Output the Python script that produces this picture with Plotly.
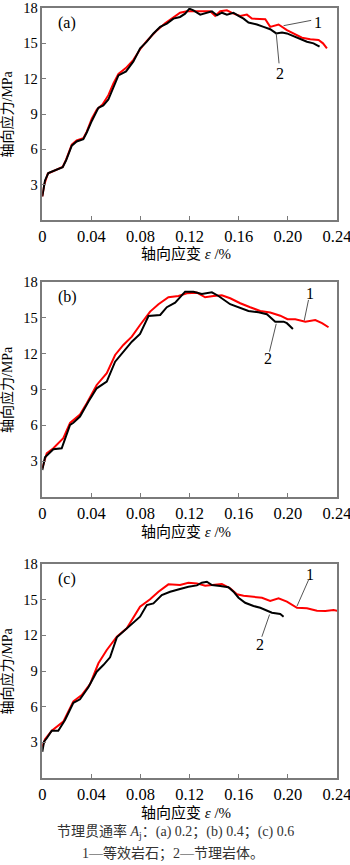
import plotly.graph_objects as go

# ---------------- data ----------------
x_ticks = [0, 0.04, 0.08, 0.12, 0.16, 0.20, 0.24]
x_tick_text = ["0", "0.04", "0.08", "0.12", "0.16", "0.20", "0.24"]
y_ticks = [3, 6, 9, 12, 15, 18]
y_tick_text = ["3", "6", "9", "12", "15", "18"]
panel_labels = ["(a)", "(b)", "(c)"]
series_labels = ["1", "2"]

# (a) curve 1 (等效岩石, red) / curve 2 (节理岩体, black)
a1_strain = [0, 0.0016, 0.0045, 0.010, 0.0166, 0.0193, 0.024, 0.028, 0.0334, 0.0362, 0.0403, 0.0445, 0.049,
             0.0538, 0.0579, 0.062, 0.068, 0.0742, 0.0797, 0.0851, 0.0933, 0.100, 0.1068, 0.1122, 0.1177,
             0.1258, 0.1313, 0.1367, 0.1408, 0.1449, 0.1503, 0.1557, 0.1612, 0.1666, 0.1707, 0.1761, 0.1816,
             0.1856, 0.1924, 0.1992, 0.2046, 0.2115, 0.2182, 0.225, 0.2286, 0.2318]
a1_stress = [2.0, 3.0, 3.95, 4.2, 4.5, 5.1, 6.4, 6.75, 6.95, 7.5, 8.6, 9.4, 9.8, 10.6, 11.6, 12.4, 12.9, 13.6,
             14.5, 15.2, 16.1, 16.7, 17.24, 17.6, 17.72, 17.72, 17.66, 17.72, 17.33, 17.72, 17.8, 17.52, 17.33,
             17.44, 17.1, 17.04, 17.04, 16.4, 16.6, 16.12, 15.84, 15.48, 15.34, 15.28, 15.0, 14.58]
a2_strain = [0, 0.0022, 0.0049, 0.0104, 0.0166, 0.0193, 0.024, 0.028, 0.0334, 0.0362, 0.0403, 0.0457, 0.0497,
             0.0538, 0.0579, 0.062, 0.0682, 0.0742, 0.0797, 0.0851, 0.0905, 0.096, 0.1014, 0.1068, 0.1122,
             0.1163, 0.1198, 0.1231, 0.1286, 0.134, 0.1381, 0.1422, 0.1463, 0.1503, 0.1557, 0.1598, 0.1639,
             0.1679, 0.1748, 0.1802, 0.1856, 0.1905, 0.1952, 0.1992, 0.2046, 0.2101, 0.2155, 0.2209, 0.2258]
a2_stress = [2.0, 3.36, 3.98, 4.2, 4.48, 5.05, 6.31, 6.67, 6.87, 7.43, 8.41, 9.53, 9.73, 10.23, 11.21, 12.28,
             12.62, 13.46, 14.58, 15.14, 15.84, 16.4, 16.68, 17.1, 17.24, 17.52, 17.94, 17.8, 17.44, 17.6, 17.72,
             17.38, 17.6, 17.44, 17.6, 17.33, 17.1, 16.76, 16.6, 16.4, 16.2, 15.84, 15.92, 15.84, 15.62, 15.37,
             15.14, 15.0, 14.72]

# (b)
b1_strain = [0, 0.0036, 0.009, 0.0171, 0.0226, 0.0307, 0.0362, 0.0443, 0.0525, 0.0593, 0.066, 0.0729, 0.0796,
             0.0878, 0.0946, 0.1027, 0.1109, 0.1177, 0.1259, 0.1326, 0.1394, 0.1462, 0.153, 0.1612, 0.1693,
             0.1775, 0.1856, 0.1938, 0.1997, 0.206, 0.2142, 0.2223, 0.2278, 0.2331]
b1_stress = [2.4, 3.66, 4.08, 4.92, 6.2, 6.9, 7.85, 9.38, 10.36, 11.89, 12.73, 13.43, 14.4, 15.52, 16.14, 16.72,
             16.83, 17.06, 17.11, 16.72, 16.83, 16.89, 16.64, 16.22, 15.89, 15.58, 15.44, 15.18, 14.88, 14.88,
             14.68, 14.82, 14.55, 14.21]
b2_strain = [0, 0.0022, 0.009, 0.0158, 0.0226, 0.0253, 0.0307, 0.0375, 0.0443, 0.0525, 0.0593, 0.066, 0.0729,
             0.0796, 0.0865, 0.096, 0.1014, 0.1082, 0.1163, 0.1231, 0.1299, 0.1381, 0.1435, 0.153, 0.1598,
             0.1679, 0.1761, 0.1829, 0.1897, 0.1965, 0.1992, 0.2041]
b2_stress = [2.26, 3.32, 4.0, 4.08, 6.03, 6.22, 6.73, 7.98, 9.1, 9.66, 11.33, 12.17, 13.0, 13.65, 15.15, 15.24,
             15.89, 16.27, 17.19, 17.19, 17.0, 17.14, 16.83, 16.14, 15.89, 15.58, 15.47, 15.3, 14.68, 14.68,
             14.55, 14.07]

# (c)
c1_strain = [0, 0.0022, 0.0077, 0.0171, 0.0253, 0.0321, 0.0389, 0.0457, 0.0525, 0.0607, 0.0688, 0.077, 0.0796,
             0.0878, 0.0946, 0.1027, 0.1122, 0.119, 0.1259, 0.1326, 0.1394, 0.1462, 0.153, 0.1585, 0.1639,
             0.172, 0.1789, 0.1856, 0.1924, 0.1992, 0.2074, 0.2155, 0.2237, 0.2305, 0.2372, 0.2405]
c1_stress = [2.63, 3.25, 3.98, 4.74, 6.45, 6.98, 7.9, 9.65, 10.77, 11.88, 12.59, 13.9, 14.4, 15.03, 15.67, 16.29,
             16.23, 16.43, 16.37, 16.18, 16.23, 16.32, 15.95, 15.45, 15.33, 15.25, 15.16, 14.89, 15.11, 14.83,
             14.32, 14.27, 14.07, 14.05, 14.13, 14.05]
c2_strain = [0, 0.0014, 0.0036, 0.0077, 0.013, 0.0185, 0.0253, 0.0307, 0.0375, 0.0443, 0.0497, 0.0552, 0.0607,
             0.0674, 0.0742, 0.0796, 0.0851, 0.0905, 0.0973, 0.1041, 0.1122, 0.119, 0.1259, 0.1299, 0.134,
             0.1381, 0.1449, 0.1516, 0.1557, 0.1598, 0.1652, 0.172, 0.1775, 0.1829, 0.187, 0.1938, 0.1965]
c2_stress = [2.21, 3.05, 3.34, 3.98, 3.98, 4.88, 6.33, 6.62, 7.63, 8.94, 9.5, 10.15, 11.83, 12.45, 13.01, 13.57,
             14.55, 14.69, 15.39, 15.67, 15.9, 16.09, 16.2, 16.43, 16.51, 16.23, 16.15, 16.04, 15.67, 15.16,
             14.74, 14.47, 14.32, 14.05, 13.9, 13.79, 13.57]

x_title = "轴向应变 <i>ε</i> /%"
y_title = "轴向应力/MPa"
caption_1 = "节理贯通率 <i>A</i><sub>j</sub>：(a) 0.2；(b) 0.4；(c) 0.6"
caption_2 = "1—等效岩石；2—节理岩体。"

panels = [
    (a1_strain, a1_stress, a2_strain, a2_stress),
    (b1_strain, b1_stress, b2_strain, b2_stress),
    (c1_strain, c1_stress, c2_strain, c2_stress),
]

# ---------------- layout geometry ----------------
W, H = 350, 865
x_dom = [42.3 / W, 337.0 / W]
panel_px = [(8, 220), (282, 497), (564, 778)]  # top, bottom in px
leaders = [
    dict(l1=(0.2245, 16.76), s1=((0.2190, 16.95), (0.1965, 16.5)),
         l2=(0.1932, 12.45), s2=((0.1928, 13.3), (0.1905, 15.84))),
    dict(l1=(0.2177, 17.06), s1=((0.2168, 16.5), (0.2133, 14.77)),
         l2=(0.1837, 11.6), s2=((0.185, 12.17), (0.1905, 14.5))),
    dict(l1=(0.2182, 17.13), s1=((0.2168, 16.65), (0.2074, 14.45)),
         l2=(0.1769, 11.19), s2=((0.1788, 11.88), (0.1851, 13.75))),
]

SERIF = "Liberation Serif, Noto Sans CJK SC, serif"
AX_COLOR = "#7a7a7a"

fig = go.Figure()
layout = dict(
    width=W, height=H,
    margin=dict(l=0, r=0, t=0, b=0),
    paper_bgcolor="white", plot_bgcolor="white",
    showlegend=False,
    font=dict(family=SERIF, size=15, color="black"),
)
annotations = []
shapes = []

for i, (s1x, s1y, s2x, s2y) in enumerate(panels):
    n = "" if i == 0 else str(i + 1)
    xa, ya = "x" + n, "y" + n
    top, bot = panel_px[i]
    fig.add_trace(go.Scatter(x=s1x, y=s1y, mode="lines", line=dict(color="#ff0000", width=2),
                             xaxis=xa, yaxis=ya, cliponaxis=True))
    fig.add_trace(go.Scatter(x=s2x, y=s2y, mode="lines", line=dict(color="#000000", width=2),
                             xaxis=xa, yaxis=ya, cliponaxis=True))
    layout["xaxis" + n] = dict(
        domain=x_dom, anchor=ya, range=[0, 0.24], tickvals=x_ticks, ticktext=x_tick_text,
        showline=True, mirror=True, linecolor=AX_COLOR, linewidth=1.5,
        ticks="inside", ticklen=4, tickcolor=AX_COLOR, showgrid=False, zeroline=False,
        tickfont=dict(family=SERIF, size=16.5, color="black"), automargin=False,
        ticklabeloverflow="allow",
    )
    layout["yaxis" + n] = dict(
        domain=[1 - bot / H, 1 - top / H], anchor=xa, range=[0, 18], tickvals=y_ticks, ticktext=y_tick_text,
        showline=True, mirror=True, linecolor=AX_COLOR, linewidth=1.5,
        ticks="inside", ticklen=4, tickcolor=AX_COLOR, showgrid=False, zeroline=False,
        tickfont=dict(family=SERIF, size=14.5, color="black"), automargin=False,
        ticklabeloverflow="allow",
    )
    annotations.append(dict(x=0.0115, y=16.76, xref=xa, yref=ya, text=panel_labels[i], showarrow=False,
                            xanchor="left", yanchor="middle", font=dict(family=SERIF, size=16, color="black")))
    annotations.append(dict(x=(x_dom[0] + x_dom[1]) / 2 - 0.01, y=1 - (bot + 34) / H, xref="paper", yref="paper",
                            text=x_title, showarrow=False, xanchor="center", yanchor="middle",
                            font=dict(family=SERIF, size=15, color="black")))
    annotations.append(dict(x=6.5 / W, y=1 - ((top + bot) / 2) / H, xref="paper", yref="paper",
                            text=y_title, textangle=-90, showarrow=False, xanchor="center", yanchor="middle",
                            font=dict(family=SERIF, size=14, color="black")))
    L = leaders[i]
    for key_l, key_s, lab in (("l1", "s1", series_labels[0]), ("l2", "s2", series_labels[1])):
        lx, ly = L[key_l]
        annotations.append(dict(x=lx, y=ly, xref=xa, yref=ya, text=lab, showarrow=False,
                                xanchor="center", yanchor="middle",
                                font=dict(family=SERIF, size=16, color="black")))
        (x0, y0), (x1, y1) = L[key_s]
        shapes.append(dict(type="line", xref=xa, yref=ya, x0=x0, y0=y0, x1=x1, y1=y1,
                           line=dict(color="#555555", width=1)))

annotations.append(dict(x=175 / W, y=1 - 832 / H, xref="paper", yref="paper", text=caption_1, showarrow=False,
                        xanchor="center", yanchor="middle", font=dict(family=SERIF, size=14, color="#333333")))
annotations.append(dict(x=173 / W, y=1 - 853 / H, xref="paper", yref="paper", text=caption_2, showarrow=False,
                        xanchor="center", yanchor="middle", font=dict(family=SERIF, size=14, color="#333333")))

layout["annotations"] = annotations
layout["shapes"] = shapes
fig.update_layout(**layout)
fig.write_html("out.html")
